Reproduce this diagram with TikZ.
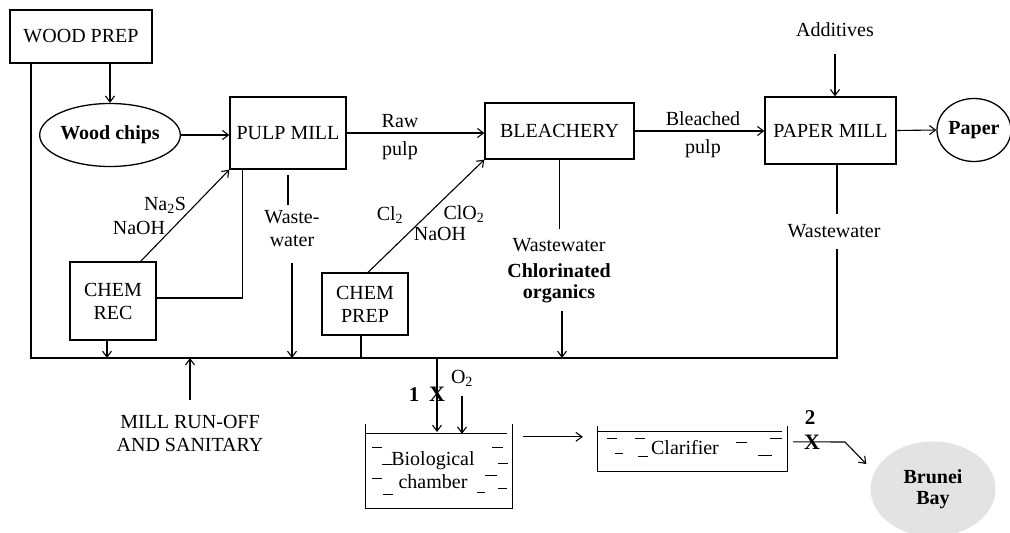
\documentclass[tikz,border=0pt]{standalone}
\usepackage{fontspec}
\setmainfont{Liberation Serif}
\usetikzlibrary{arrows.meta,shapes.geometric,calc}
\begin{document}
\begin{tikzpicture}[x=1pt,y=-1pt,
  every node/.style={font=\fontsize{20}{23}\selectfont, align=center, inner sep=0pt},
  box/.style={draw, line width=1.3pt, rectangle},
  oval/.style={draw, line width=1.3pt, ellipse},
  lbl/.style={},
  blbl/.style={font=\fontsize{20}{21}\selectfont\bfseries},
  ln/.style={line width=1.1pt},
  arr/.style={line width=1.1pt, -{Straight Barb[length=6pt,width=9pt,line width=1.1pt]}},
  tank/.style={line width=1.3pt},
  water/.style={line width=0.6pt},
  dsh/.style={line width=0.6pt},
  xmark/.style={font=\fontsize{22}{22}\selectfont\bfseries}
]
\useasboundingbox (0,0) rectangle (1010,533);

% main boxes
\node[box, minimum width=142pt, minimum height=53pt] (wp) at (81,36.5) {WOOD PREP};
\node[oval, minimum width=112pt, minimum height=63pt, font=\fontsize{20}{23}\selectfont\bfseries] (wc) at (110,135) {Wood chips};
\node[box, minimum width=116pt, minimum height=72pt] (pm) at (288,133) {PULP MILL};
\node[box, minimum width=149pt, minimum height=56pt] (bl) at (559.5,131) {BLEACHERY};
\node[box, minimum width=131pt, minimum height=67pt] (pp) at (830.5,130.5) {PAPER MILL};
\node[oval, minimum width=74pt, minimum height=63pt, font=\fontsize{20}{23}\selectfont\bfseries] (pa) at (974,130) {Paper};
\node[box, minimum width=86pt, minimum height=78pt] (cr) at (113,301) {CHEM\\REC};
\node[box, minimum width=86pt, minimum height=62pt] (cp) at (365,304) {CHEM\\PREP};

% labels
\node[lbl] (add) at (835,30) {Additives};
\node[lbl] (raw) at (400,121) {Raw};
\node[lbl] (rawp) at (400,151) {pulp};
\node[lbl] (blp) at (703,119) {Bleached};
\node[lbl] (blpp) at (703,149) {pulp};
\node[lbl] (na2s) at (165,205) {Na\textsubscript{2}S};
\node[lbl] (naoh1) at (139,228) {NaOH};
\node[lbl] (cl2) at (390,215) {Cl\textsubscript{2}};
\node[lbl] (clo2) at (464,214) {ClO\textsubscript{2}};
\node[lbl] (naoh2) at (440,234) {NaOH};
\node[lbl] (pmw) at (292,229) {Waste-\\water};
\node[lbl] (blw) at (559,245) {Wastewater};
\node[blbl] (blo) at (559,283) {Chlorinated\\organics};
\node[lbl] (ppw) at (834,231) {Wastewater};
\node[lbl] (run) at (190,433) {MILL RUN-OFF\\AND SANITARY};

% collector
\coordinate (cL) at (31,358);
\coordinate (cR) at (837,358);
\coordinate (j1) at (437,358);

% tanks
\node[minimum width=146pt, minimum height=84pt] (bio) at (439,466) {};
\node[minimum width=189pt, minimum height=45pt] (cla) at (692.5,448.5) {};
\node (biot) at (433,470) {Biological\\chamber};
\node (clat) at (685,448) {Clarifier};
\node[ellipse, fill=gray!22, minimum width=125pt, minimum height=95pt, blbl] (bay) at (933,489) {Brunei\\Bay};

% connectors top
\draw[arr] (wp.south -| wc.north) -- (wc.north);
\draw[arr] (wc.east) -- (wc.east -| pm.west);
\draw[arr] (pm.east) -- (pm.east -| bl.west);
\draw[arr] (bl.east) -- (bl.east -| pp.west);
\draw[arr] ([yshift=-17pt]add.south) -- (add.south |- pp.north);
\draw[arr] (pp.east) -- (pa.west);
\draw[arr] ([xshift=-16pt]cr.north east) -- (pm.south west);
\draw[ln] ([yshift=3pt]cr.east) -| ([xshift=13pt]pm.south west);
\draw[arr] ([xshift=3pt]cp.north) -- (bl.south west);

% wastewater lines
\draw[ln] ([yshift=-5pt]pm.south) -- ([yshift=-35pt]pm.south);
\draw[arr] ([yshift=-16pt]pmw.south) -- (pmw.south |- cL);
\draw[ln] (bl.south) -- ([yshift=-69pt]bl.south);
\draw[arr] ([xshift=3pt,yshift=-8pt]blo.south) -- ([xshift=3pt]blo.south |- cL);
\draw[ln] (pp.south -| cR) -- ([yshift=-49pt]pp.south -| cR);
\draw[ln] ([yshift=-11pt]ppw.south -| cR) -- (cR) -- (cL) -- (wp.south -| cL);
\draw[arr] ([xshift=-6pt]cr.south) -- ([xshift=-6pt]cr.south |- cL);
\draw[ln] ([xshift=-4pt]cp.south) -- ([xshift=-4pt]cp.south |- cL);
\draw[arr] ([yshift=15pt]run.north) -- (run.north |- cL);

% to biological chamber
\draw[arr] (j1) -- (j1 |- 0,432);
\node[xmark] (x1) at (437,394) {X};
\node[font=\fontsize{21}{21}\selectfont\bfseries] (n1) at (414,395) {1};
\node[lbl] (o2) at (462,378) {O\textsubscript{2}};
\draw[arr] ([yshift=-10pt]o2.south) -- ([yshift=-10pt]o2.south |- bio.north);

% tank walls
\draw[tank] (bio.north west) -- (bio.south west) -- (bio.south east) -- (bio.north east);
\draw[water] ([yshift=-9pt]bio.north west) -- ([xshift=-5pt,yshift=-9pt]bio.north east);
\draw[tank] (cla.north west) -- (cla.south west) -- (cla.south east) -- (cla.north east);
\draw[water] ([yshift=-5pt]cla.north west) -- ([xshift=-5pt,yshift=-5pt]cla.north east);
\draw[arr] ([xshift=11pt,yshift=-13pt]bio.north east) -- ([xshift=-15pt,yshift=-11pt]cla.north west);

% dashes biological
\foreach \a/\b/\c in {372/382/447, 382/392/464, 372/382/478, 383/393/494, 492/503/447, 498/508/463, 485/497/475, 477/485/492, 498/507/488}
  \draw[dsh] (\a,\c) -- (\b,\c);
% dashes clarifier
\foreach \a/\b/\c in {607/617/438, 615/623/453, 635/645/438, 638/648/456, 736/747/442, 758/772/455, 770/782/438}
  \draw[dsh] (\a,\c) -- (\b,\c);

% outlet
\coordinate (o1) at (845,442);
\draw[ln] ([xshift=6pt,yshift=-16pt]cla.north east) -- (o1);
\draw[arr] (o1) -- ([xshift=-4pt,yshift=25pt]bay.west);
\node[xmark] (x2) at (812,442) {X};
\node[font=\fontsize{21}{21}\selectfont\bfseries] (n2) at (810,418) {2};
\end{tikzpicture}
\end{document}
